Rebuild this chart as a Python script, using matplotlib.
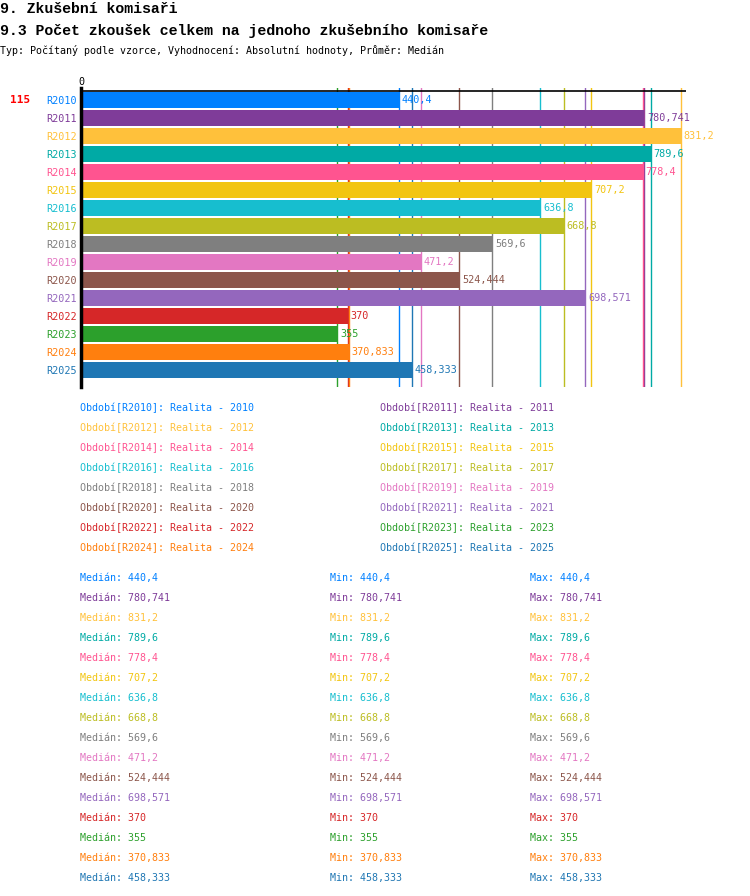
import matplotlib
matplotlib.use("Agg")
import matplotlib.pyplot as plt

# ------------------- DATA ------------------- #
periods = ["R2010", "R2011", "R2012", "R2013", "R2014", "R2015", "R2016", "R2017",
           "R2018", "R2019", "R2020", "R2021", "R2022", "R2023", "R2024", "R2025"]
years = [p[1:] for p in periods]
medians = [440.4, 780.741, 831.2, 789.6, 778.4, 707.2, 636.8, 668.8,
           569.6, 471.2, 524.444, 698.571, 370, 355, 370.833, 458.333]
colors = ["#0080ff", "#7f3c99", "#ffc13b", "#00aaa5", "#ff5490", "#f2c511",
          "#17becf", "#bcbd22", "#7f7f7f", "#e377c2", "#8c564b", "#9467bd",
          "#d62728", "#2ca02c", "#ff7f0e", "#1f77b4"]
count_label = "115"

title = "9. Zkušební komisaři"
subtitle = "9.3 Počet zkoušek celkem na jednoho zkušebního komisaře"
info = "Typ: Počítaný podle vzorce, Vyhodnocení: Absolutní hodnoty, Průměr: Medián"

MONO = "DejaVu Sans Mono"
HEAD = "Liberation Mono"
W, H = 750, 896


def fmt(v):
    return f"{v:.3f}".rstrip("0").rstrip(".").replace(".", ",")


def px(x, y):
    return x / W, 1 - y / H


fig = plt.figure(figsize=(W / 100, H / 100), dpi=100)

# ------------------ HEADER ------------------- #
fig.text(*px(0, 9), title, family=HEAD, fontsize=10.7, weight="bold", va="center")
fig.text(*px(0, 31), subtitle, family=HEAD, fontsize=10.7, weight="bold", va="center")
fig.text(*px(0, 51), info, family=MONO, fontsize=7.2, va="center")

# ------------------ BARS ------------------- #
ax = fig.add_axes([81 / W, 1 - 387 / H, (686 - 81) / W, (387 - 88) / H])
n = len(periods)
ypos = list(range(n))

# median lines behind the bars
for v, c in zip(medians, colors):
    ax.axvline(v, color=c, lw=1, zorder=1)

ax.barh(ypos, medians, height=16 / 18, color=colors, zorder=2)
for y, v, c in zip(ypos, medians, colors):
    ax.text(v + 4, y, fmt(v), color=c, family=MONO, fontsize=7.3,
            va="center", ha="left", zorder=3, clip_on=False)

ax.set_xlim(0, 838.5)
ax.set_ylim(15.944, -0.667)
ax.axhline(-0.5, color="black", lw=1.2, zorder=4)
for s in ["top", "right", "bottom"]:
    ax.spines[s].set_visible(False)
ax.spines["left"].set_linewidth(2.5)
ax.spines["left"].set_zorder(5)
ax.set_xticks([])
ax.set_yticks(ypos)
ax.set_yticklabels(periods, family=MONO, fontsize=7.3)
for lbl, c in zip(ax.get_yticklabels(), colors):
    lbl.set_color(c)
ax.tick_params(axis="y", length=0, pad=3)

fig.text(*px(81, 82), "0", family=MONO, fontsize=7.3, ha="center", va="center")
fig.text(*px(10, 100), count_label, family=MONO, fontsize=8, weight="bold",
         color="red", ha="left", va="center")

# ------------------ LEGEND ------------------- #
for i, (p, yr, c) in enumerate(zip(periods, years, colors)):
    x = 80 if i % 2 == 0 else 380
    y = 408 + 20 * (i // 2)
    fig.text(*px(x, y), f"Období[{p}]: Realita - {yr}", family=MONO,
             fontsize=7.2, color=c, va="center")

# ------------------ STATS ------------------- #
for i, (v, c) in enumerate(zip(medians, colors)):
    y = 578 + 20 * i
    fig.text(*px(80, y), f"Medián: {fmt(v)}", family=MONO, fontsize=7.2, color=c, va="center")
    fig.text(*px(330, y), f"Min: {fmt(v)}", family=MONO, fontsize=7.2, color=c, va="center")
    fig.text(*px(530, y), f"Max: {fmt(v)}", family=MONO, fontsize=7.2, color=c, va="center")

fig.savefig("out.png", dpi=100)
